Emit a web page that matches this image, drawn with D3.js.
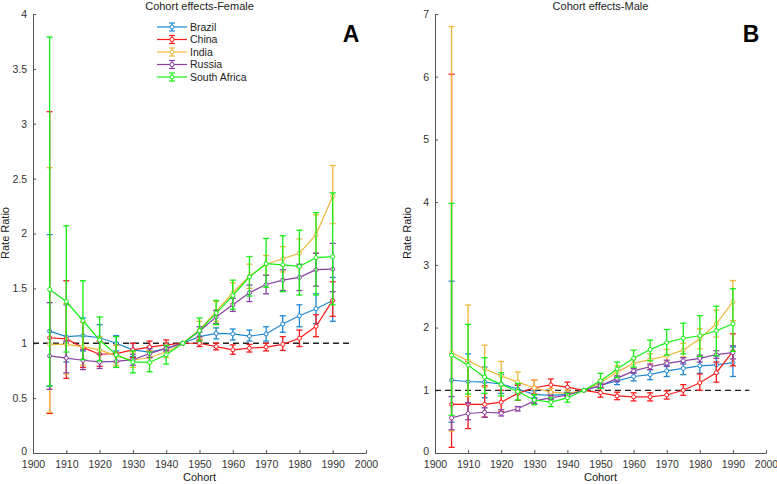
<!DOCTYPE html>
<html lang="en">
<head>
    <meta charset="UTF-8">
    <title>Cohort effects</title>
    <script src="https://d3js.org/d3.v7.min.js"></script>
    <style>
        body { margin: 0; background: #fff; }
        text { font-family: "Liberation Sans", Arial, sans-serif; }
    </style>
</head>
<body>

<svg id="chart" width="777" height="484"></svg>

<script>
// cohorts (birth year)
const cohorts = [1905,1910,1915,1920,1925,1930,1935,1940,1945,1950,1955,1960,1965,1970,1975,1980,1985,1990];
const countries = ["Brazil", "China", "India", "Russia", "South Africa"];
const colors = ["#1f86d2", "#ff1a1a", "#efb63a", "#8a3fa3", "#12f012"];
const xTicks = [1900,1910,1920,1930,1940,1950,1960,1970,1980,1990,2000];
const yTicksA = [0,0.5,1,1.5,2,2.5,3,3.5,4];
const yTicksB = [0,1,2,3,4,5,6,7];

// Female – rate ratio, lower and upper bound
const femBrazil   = [1.11,1.06,1.07,1.05,1.00,0.94,0.92,0.95,1,1.06,1.09,1.085,1.065,1.085,1.175,1.25,1.315,1.39];
const femBrazilLo = [0.61,0.83,0.93,0.94,0.93,0.88,0.87,0.92,1,1.02,1.04,1.03,1.02,1.02,1.10,1.15,1.18,1.20];
const femBrazilHi = [1.99,1.35,1.23,1.17,1.07,1.00,0.97,0.99,1,1.10,1.14,1.13,1.12,1.15,1.25,1.35,1.45,1.60];
const femChina    = [1.05,1.04,0.96,0.90,0.905,0.94,0.965,0.985,1,1.00,0.97,0.94,0.955,0.965,0.99,1.045,1.155,1.39];
const femChinaLo  = [0.36,0.68,0.78,0.79,0.83,0.87,0.93,0.95,1,0.97,0.94,0.90,0.92,0.93,0.935,0.97,1.06,1.245];
const femChinaHi  = [3.11,1.57,1.19,1.02,0.98,1.00,1.02,1.03,1,1.03,1.00,0.985,0.99,1.00,1.06,1.12,1.26,1.56];
const femIndia    = [0.99,0.99,0.97,0.94,0.885,0.845,0.87,0.92,1,1.12,1.29,1.46,1.61,1.72,1.77,1.82,1.99,2.34];
const femIndiaLo  = [0.37,0.72,0.80,0.83,0.80,0.78,0.82,0.87,1,1.05,1.20,1.36,1.50,1.62,1.65,1.69,1.82,2.09];
const femIndiaHi  = [2.60,1.36,1.19,1.06,0.98,0.92,0.93,0.98,1,1.20,1.38,1.55,1.72,1.80,1.88,1.95,2.17,2.62];
const femRussia   = [0.885,0.865,0.845,0.83,0.835,0.85,0.905,0.955,1,1.11,1.24,1.35,1.46,1.535,1.575,1.60,1.67,1.675];
const femRussiaLo = [0.58,0.73,0.76,0.77,0.78,0.80,0.87,0.93,1,1.06,1.18,1.29,1.38,1.45,1.48,1.48,1.52,1.47];
const femRussiaHi = [1.37,1.02,0.94,0.90,0.90,0.90,0.95,0.98,1,1.15,1.30,1.41,1.53,1.62,1.67,1.72,1.82,1.91];
const femSA       = [1.49,1.38,1.205,1.03,0.895,0.83,0.825,0.895,1,1.115,1.275,1.435,1.605,1.725,1.715,1.70,1.78,1.79];
const femSALo     = [0.61,0.92,0.85,0.84,0.78,0.73,0.74,0.81,1,1.02,1.17,1.31,1.43,1.51,1.47,1.44,1.44,1.35];
const femSAHi     = [3.79,2.07,1.57,1.24,1.06,0.93,0.92,0.98,1,1.23,1.39,1.575,1.79,1.955,1.98,2.03,2.19,2.37];

// Male – rate ratio, lower and upper bound
const malBrazil   = [1.16,1.14,1.13,1.10,1.02,0.935,0.92,0.935,1,1.08,1.15,1.22,1.25,1.31,1.35,1.39,1.405,1.44];
const malBrazilLo = [0.49,0.80,0.88,0.95,0.94,0.88,0.87,0.90,1,1.03,1.09,1.15,1.17,1.22,1.25,1.27,1.27,1.22];
const malBrazilHi = [2.74,1.58,1.37,1.25,1.10,0.99,0.97,0.97,1,1.13,1.21,1.29,1.33,1.40,1.45,1.51,1.55,1.69];
const malChina    = [0.775,0.775,0.775,0.81,0.95,1.04,1.085,1.05,1,0.96,0.91,0.895,0.895,0.925,1.00,1.12,1.28,1.62];
const malChinaLo  = [0.09,0.39,0.57,0.66,0.84,0.94,0.96,0.95,1,0.89,0.85,0.83,0.83,0.86,0.92,1.00,1.13,1.39];
const malChinaHi  = [6.04,1.46,1.07,1.00,1.08,1.16,1.18,1.13,1,1.04,0.97,0.96,0.96,0.99,1.09,1.26,1.45,1.90];
const malIndia    = [1.60,1.47,1.34,1.23,1.13,1.04,0.97,0.95,1,1.12,1.29,1.43,1.49,1.55,1.64,1.82,2.06,2.41];
const malIndiaLo  = [0.35,0.90,1.05,1.07,0.98,0.93,0.91,0.90,1,1.07,1.18,1.35,1.40,1.45,1.53,1.66,1.85,2.11];
const malIndiaHi  = [6.80,2.36,1.72,1.46,1.29,1.16,1.03,1.00,1,1.17,1.39,1.50,1.58,1.65,1.75,1.98,2.28,2.75];
const malRussia   = [0.56,0.63,0.65,0.635,0.705,0.83,0.88,0.925,1,1.07,1.19,1.31,1.375,1.43,1.47,1.51,1.57,1.60];
const malRussiaLo = [0.37,0.53,0.57,0.59,0.67,0.79,0.85,0.90,1,1.04,1.14,1.27,1.33,1.38,1.42,1.45,1.51,1.50];
const malRussiaHi = [0.90,0.80,0.72,0.69,0.74,0.87,0.92,0.96,1,1.10,1.23,1.35,1.42,1.48,1.52,1.56,1.63,1.71];
const malSA       = [1.56,1.40,1.21,1.095,0.98,0.845,0.81,0.88,1,1.15,1.34,1.51,1.65,1.76,1.83,1.87,1.95,2.06];
const malSALo     = [0.60,0.94,0.95,0.91,0.845,0.77,0.74,0.81,1,1.03,1.20,1.37,1.47,1.56,1.58,1.54,1.55,1.62];
const malSAHi     = [3.98,2.05,1.52,1.28,1.11,0.93,0.88,0.95,1,1.27,1.45,1.64,1.80,1.97,2.07,2.19,2.34,2.62];

const femSeries = [
    [femBrazil, femBrazilLo, femBrazilHi],
    [femChina, femChinaLo, femChinaHi],
    [femIndia, femIndiaLo, femIndiaHi],
    [femRussia, femRussiaLo, femRussiaHi],
    [femSA, femSALo, femSAHi]
];
const malSeries = [
    [malBrazil, malBrazilLo, malBrazilHi],
    [malChina, malChinaLo, malChinaHi],
    [malIndia, malIndiaLo, malIndiaHi],
    [malRussia, malRussiaLo, malRussiaHi],
    [malSA, malSALo, malSAHi]
];

const svg = d3.select("#chart");
const axisColor = "#555";

function drawPanel(opt) {
    const x = d3.scaleLinear().domain([1900, 2000]).range([opt.left, opt.right]);
    const y = d3.scaleLinear().domain([0, opt.ymax]).range([453, 14]);
    const g = svg.append("g");

    // axes, ticks inside like matlab
    const xa = g.append("g").attr("transform", "translate(0,453)")
        .call(d3.axisBottom(x).tickValues(xTicks).tickFormat(d3.format("d")).tickSizeInner(-3).tickSizeOuter(0).tickPadding(8));
    const ya = g.append("g").attr("transform", `translate(${opt.left},0)`)
        .call(d3.axisLeft(y).tickValues(opt.yTicks).tickFormat(d => d).tickSizeInner(-3).tickSizeOuter(0).tickPadding(6));
    [xa, ya].forEach(a => {
        a.select(".domain").attr("stroke", axisColor);
        a.selectAll(".tick line").attr("stroke", axisColor);
        a.selectAll(".tick text").attr("fill", "#333").style("font-size", "10.5px");
    });
    // lift the zero label a touch so it clears the year labels
    ya.selectAll(".tick text").filter(d => d === 0).attr("dy", "0.1em");

    // reference line
    g.append("line")
        .attr("x1", x(1900)).attr("x2", x(1995))
        .attr("y1", y(1)).attr("y2", y(1))
        .attr("stroke", "#222").attr("stroke-width", 1.3)
        .attr("stroke-dasharray", "6,4");

    opt.series.forEach((s, i) => {
        const col = colors[i];
        const pts = cohorts.map((c, j) => ({ c: c, v: s[0][j], lo: s[1][j], hi: s[2][j] }));
        const sg = g.append("g");

        sg.selectAll(".bar").data(pts).enter().append("line")
            .attr("x1", d => x(d.c)).attr("x2", d => x(d.c))
            .attr("y1", d => y(d.lo)).attr("y2", d => y(d.hi))
            .attr("stroke", col).attr("stroke-width", 1.3);
        ["lo", "hi"].forEach(k => {
            sg.selectAll(".cap" + k).data(pts).enter().append("line")
                .attr("x1", d => x(d.c) - 3).attr("x2", d => x(d.c) + 3)
                .attr("y1", d => y(d[k])).attr("y2", d => y(d[k]))
                .attr("stroke", col).attr("stroke-width", 1.3);
        });

        sg.append("path").datum(pts)
            .attr("fill", "none").attr("stroke", col).attr("stroke-width", 1.2)
            .attr("d", d3.line().x(d => x(d.c)).y(d => y(d.v)));

        sg.selectAll("circle").data(pts).enter().append("circle")
            .attr("cx", d => x(d.c)).attr("cy", d => y(d.v)).attr("r", 2)
            .attr("fill", "#fff").attr("stroke", col).attr("stroke-width", 1);
    });

    const mid = (opt.left + opt.right) / 2;
    g.append("text").attr("x", mid).attr("y", 10).attr("text-anchor", "middle")
        .style("font-size", "11px").attr("fill", "#222").text(opt.title);
    g.append("text").attr("x", mid).attr("y", 481).attr("text-anchor", "middle")
        .style("font-size", "11px").attr("fill", "#222").text("Cohort");
    g.append("text")
        .attr("transform", `translate(${opt.left - 24},233) rotate(-90)`)
        .attr("text-anchor", "middle")
        .style("font-size", "11px").attr("fill", "#222").text("Rate Ratio");
    g.append("text").attr("x", opt.letterX).attr("y", 42).attr("text-anchor", "middle")
        .style("font-size", "23px").style("font-weight", "bold").attr("fill", "#000").text(opt.letter);
}

drawPanel({ left: 33, right: 366, ymax: 4, yTicks: yTicksA, series: femSeries,
    title: "Cohort effects-Female", letter: "A", letterX: 351 });
drawPanel({ left: 435, right: 766, ymax: 7, yTicks: yTicksB, series: malSeries,
    title: "Cohort effects-Male", letter: "B", letterX: 751 });

// legend (panel A)
const legend = svg.append("g");
countries.forEach((name, i) => {
    const ly = 27 + i * 12.5;
    const col = colors[i];
    legend.append("line").attr("x1", 157).attr("x2", 187).attr("y1", ly).attr("y2", ly)
        .attr("stroke", col).attr("stroke-width", 1.2);
    legend.append("line").attr("x1", 172).attr("x2", 172).attr("y1", ly - 4).attr("y2", ly + 4)
        .attr("stroke", col).attr("stroke-width", 1.2);
    [ly - 4, ly + 4].forEach(cy => {
        legend.append("line").attr("x1", 169).attr("x2", 175).attr("y1", cy).attr("y2", cy)
            .attr("stroke", col).attr("stroke-width", 1.2);
    });
    legend.append("circle").attr("cx", 172).attr("cy", ly).attr("r", 2)
        .attr("fill", "#fff").attr("stroke", col);
    legend.append("text").attr("x", 190).attr("y", ly + 3.5)
        .style("font-size", "10.5px").attr("fill", "#222").text(name);
});
</script>

</body>
</html>
